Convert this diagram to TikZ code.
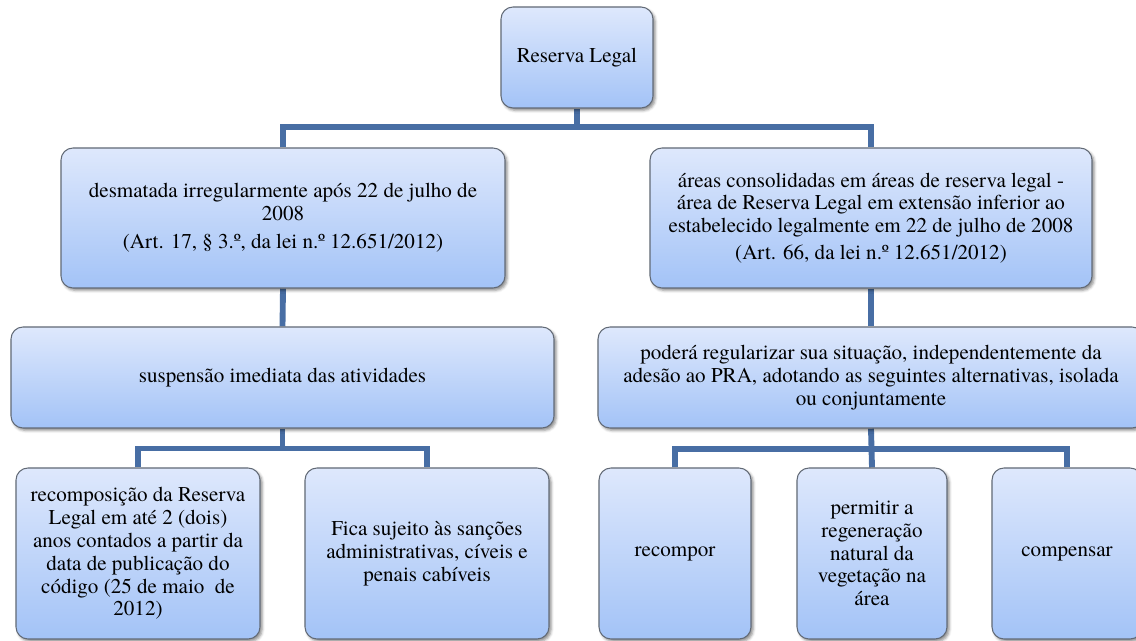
\documentclass[tikz,border=0pt]{standalone}
\usepackage{fontspec}
\setmainfont{texgyretermes}[Extension=.otf, UprightFont=*-regular,
  BoldFont=*-bold, ItalicFont=*-italic, BoldItalicFont=*-bolditalic]
\usetikzlibrary{shadows.blur}
\definecolor{boxtop}{RGB}{222,232,252}
\definecolor{boxbot}{RGB}{163,195,247}
\definecolor{boxline}{RGB}{98,106,118}
\definecolor{linkblue}{RGB}{72,110,164}
\pgfdeclarelayer{bg}
\pgfsetlayers{bg,main}
\tikzset{
  box/.style={draw=boxline, line width=0.8pt, rounded corners=9pt,
    top color=boxtop, bottom color=boxbot, align=center,
    inner sep=2pt, font=\fontsize{15.8}{17.1}\selectfont,
    blur shadow={shadow xshift=1.6pt, shadow yshift=-1.8pt,
      shadow blur radius=2pt, shadow opacity=45}},
  link/.style={draw=linkblue, line width=4.4pt, line join=miter}
}
\begin{document}
\begin{tikzpicture}[x=0.75pt, y=-0.75pt]
\useasboundingbox (0,0) rectangle (1136,641);

% level 0
\node[box, minimum width=114pt, minimum height=75.75pt] (top) at (577,57.5) {Reserva Legal};

% level 1
\node[box, minimum width=333pt, minimum height=105pt] (L1) at (283,218)
  {desmatada irregularmente após 22 de julho de\\ 2008\\[4pt]
   (Art. 17, § 3.º, da lei n.º 12.651/2012)};
\node[box, minimum width=331.5pt, minimum height=105pt] (R1) at (871,218)
  {áreas consolidadas em áreas de reserva legal -\\
   área de Reserva Legal em extensão inferior ao\\
   estabelecido legalmente em 22 de julho de 2008\\[3pt]
   (Art. 66, da lei n.º 12.651/2012)};

% level 2
\node[box, minimum width=407.25pt, minimum height=75.75pt] (L2) at (282.5,377.5)
  {suspensão imediata das atividades};
\node[box, minimum width=409.5pt, minimum height=75.75pt] (R2) at (871,377.5)
  {poderá regularizar sua situação, independentemente da\\
   adesão ao PRA, adotando as seguintes alternativas, isolada\\
   ou conjuntamente};

% level 3
\node[box, minimum width=183pt, minimum height=128.25pt] (L3a) at (138,553.5)
  {recomposição da Reserva\\ Legal em até 2 (dois)\\ anos contados a partir da\\
   data de publicação do\\ código (25 de maio\ \ de\\ 2012)};
\node[box, minimum width=183pt, minimum height=128.25pt] (L3b) at (427,553.5)
  {Fica sujeito às sanções\\ administrativas, cíveis e\\ penais cabíveis};
\node[box, minimum width=114pt, minimum height=128.25pt] (R3a) at (675,553.5)
  {recompor};
\node[box, minimum width=112.5pt, minimum height=128.25pt] (R3b) at (872,553.5)
  {permitir a\\ regeneração\\ natural da\\ vegetação na\\ área};
\node[box, minimum width=112.5pt, minimum height=128.25pt] (R3c) at (1067,553.5)
  {compensar};

% connectors, drawn underneath the boxes
\coordinate (busTop) at (577,127);
\coordinate (busL) at (282.5,448.5);
\coordinate (busR) at (871,449);
\begin{pgfonlayer}{bg}
  \draw[link] (top.south) -- (busTop);
  \draw[link] (L1.north) |- (busTop) -| (R1.north);
  \draw[link] (L1.south) -- (L2.north);
  \draw[link] (R1.south) -- (R2.north);
  \draw[link] (L2.south) -- (busL);
  \draw[link] (L3a.north) |- (busL) -| (L3b.north);
  \draw[link] (R2.south) -- (R3b.north);
  \draw[link] (R3a.north) |- (busR) -| (R3c.north);
\end{pgfonlayer}
\end{tikzpicture}
\end{document}
